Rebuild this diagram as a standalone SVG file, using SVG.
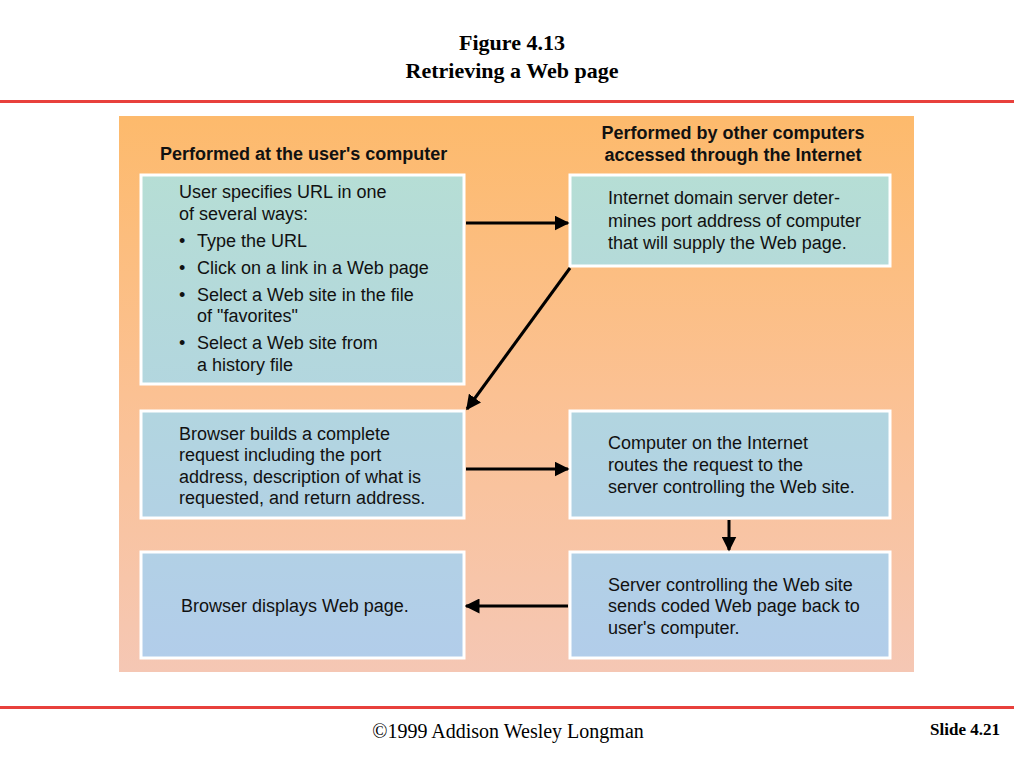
<svg xmlns="http://www.w3.org/2000/svg" width="1024" height="768" viewBox="0 0 1024 768">
<defs>
<linearGradient id="panel" gradientUnits="userSpaceOnUse" x1="0" y1="116" x2="0" y2="672">
<stop offset="0" stop-color="#FDBA6C"/>
<stop offset="0.5" stop-color="#FBC193"/>
<stop offset="1" stop-color="#F5C7B4"/>
</linearGradient>
<linearGradient id="boxfill" gradientUnits="userSpaceOnUse" x1="0" y1="174" x2="0" y2="659">
<stop offset="0" stop-color="#B6DED5"/>
<stop offset="0.5" stop-color="#B2D5E0"/>
<stop offset="1" stop-color="#B2CDEA"/>
</linearGradient>
<marker id="ah" viewBox="0 0 10 10" refX="9" refY="5" markerWidth="5" markerHeight="5" orient="auto" markerUnits="strokeWidth">
<path d="M0,0 L10,5 L0,10 z" fill="#000"/>
</marker>
<style>
.box{fill:url(#boxfill);stroke:#fff;stroke-width:3}
.t{font-family:"Liberation Sans",Arial,sans-serif;font-size:18px;fill:#111}
.h{font-family:"Liberation Sans",Arial,sans-serif;font-size:18px;font-weight:bold;fill:#111}
.c{stroke:#000;stroke-width:3;fill:none;marker-end:url(#ah)}
.serif{font-family:"Liberation Serif","Times New Roman",serif;fill:#000}
</style>
</defs>
<rect width="1024" height="768" fill="#fff"/>
<g id="title">
<text class="serif" x="512" y="50" text-anchor="middle" font-size="22" font-weight="bold">Figure 4.13</text>
<text class="serif" x="512" y="78" text-anchor="middle" font-size="22" font-weight="bold">Retrieving a Web page</text>
</g>
<rect x="0" y="100" width="1014" height="3" fill="#E8403C"/>
<rect x="0" y="706" width="1014" height="3" fill="#E8403C"/>
<rect x="119" y="116" width="795" height="556" fill="url(#panel)"/>
<g id="headers">
<text class="h" x="160" y="160">Performed at the user's computer</text>
<text class="h" x="733" y="139" text-anchor="middle">Performed by other computers</text>
<text class="h" x="733" y="161" text-anchor="middle">accessed through the Internet</text>
</g>
<g id="node1">
<rect class="box" x="141" y="175" width="323" height="209"/>
<text class="t" x="179" y="198">User specifies URL in one</text>
<text class="t" x="179" y="220">of several ways:</text>
<text class="t" x="179" y="247">•</text><text class="t" x="197" y="247">Type the URL</text>
<text class="t" x="179" y="274">•</text><text class="t" x="197" y="274">Click on a link in a Web page</text>
<text class="t" x="179" y="301">•</text><text class="t" x="197" y="301">Select a Web site in the file</text>
<text class="t" x="197" y="322">of "favorites"</text>
<text class="t" x="179" y="349">•</text><text class="t" x="197" y="349">Select a Web site from</text>
<text class="t" x="197" y="371">a history file</text>
</g>
<g id="node2">
<rect class="box" x="570" y="175" width="320" height="91"/>
<text class="t" x="608" y="204">Internet domain server deter-</text>
<text class="t" x="608" y="227">mines port address of computer</text>
<text class="t" x="608" y="249">that will supply the Web page.</text>
</g>
<g id="node3">
<rect class="box" x="141" y="411" width="323" height="107"/>
<text class="t" x="179" y="440">Browser builds a complete</text>
<text class="t" x="179" y="461">request including the port</text>
<text class="t" x="179" y="483">address, description of what is</text>
<text class="t" x="179" y="504">requested, and return address.</text>
</g>
<g id="node4">
<rect class="box" x="570" y="411" width="320" height="107"/>
<text class="t" x="608" y="449">Computer on the Internet</text>
<text class="t" x="608" y="471">routes the request to the</text>
<text class="t" x="608" y="493">server controlling the Web site.</text>
</g>
<g id="node5">
<rect class="box" x="141" y="552" width="323" height="106"/>
<text class="t" x="181" y="612">Browser displays Web page.</text>
</g>
<g id="node6">
<rect class="box" x="570" y="552" width="320" height="106"/>
<text class="t" x="608" y="591">Server controlling the Web site</text>
<text class="t" x="608" y="612">sends coded Web page back to</text>
<text class="t" x="608" y="634">user's computer.</text>
</g>
<g id="connectors">
<line class="c" x1="466" y1="223" x2="568" y2="223"/>
<line class="c" x1="570" y1="268" x2="467" y2="409"/>
<line class="c" x1="466" y1="469" x2="568" y2="469"/>
<line class="c" x1="729" y1="520" x2="729" y2="550"/>
<line class="c" x1="568" y1="606" x2="466" y2="606"/>
</g>
<g id="footer">
<text class="serif" x="508" y="738" text-anchor="middle" font-size="20">©1999 Addison Wesley Longman</text>
<text class="serif" x="1000" y="735" text-anchor="end" font-size="17" font-weight="bold">Slide 4.21</text>
</g>
</svg>
